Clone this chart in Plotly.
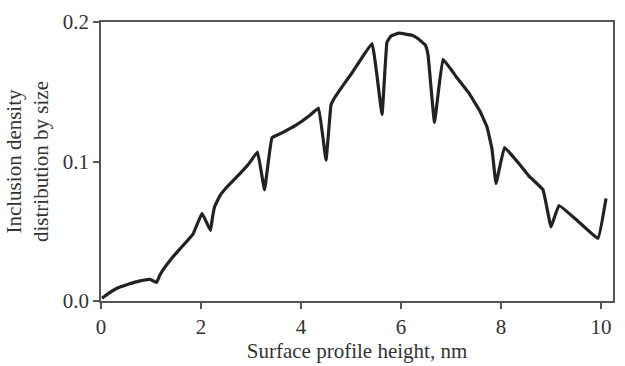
import plotly.graph_objects as go

height_nm = [0.02, 0.15, 0.34, 0.5, 0.62, 0.78, 0.98, 1.11, 1.17, 1.24, 1.4, 1.57,
             1.84, 2.02, 2.19, 2.23, 2.27, 2.38, 2.5, 2.77, 2.95, 3.13, 3.27,
             3.42, 3.63, 3.9, 4.16, 4.35, 4.5, 4.6, 4.66, 4.83, 5.03, 5.42,
             5.62, 5.72, 5.8, 5.96, 6.22, 6.35, 6.49, 6.54, 6.67, 6.84, 7.1,
             7.35, 7.58, 7.72, 7.82, 7.9, 8.07, 8.35, 8.55, 8.84, 9.0, 9.16,
             9.54, 9.94, 10.1]
density = [0.002, 0.0055, 0.0095, 0.0115, 0.0128, 0.0144, 0.0155, 0.0133, 0.018,
           0.0223, 0.030, 0.037, 0.048, 0.0628, 0.0505, 0.060, 0.0674, 0.0755,
           0.081, 0.091, 0.098, 0.1068, 0.0797, 0.117, 0.1207, 0.126, 0.1326,
           0.1383, 0.101, 0.1405, 0.145, 0.154, 0.164, 0.1845, 0.1338, 0.1856,
           0.190, 0.192, 0.1905, 0.1878, 0.1833, 0.1766, 0.128, 0.1732, 0.161,
           0.1495, 0.136, 0.1248, 0.109, 0.0842, 0.110, 0.0989, 0.0899, 0.0797,
           0.0532, 0.0685, 0.0572, 0.0448, 0.0734]
x_ticks = [0, 2, 4, 6, 8, 10]
y_ticks = [0.0, 0.1, 0.2]

font = "Liberation Serif, Times New Roman, serif"

fig = go.Figure(go.Scatter(x=height_nm, y=density, mode="lines",
                           line=dict(color="#222222", width=3.2, shape="spline", smoothing=0.25),
                           hoverinfo="skip"))

axis_common = dict(showline=True, linecolor="#555555", linewidth=1.5, mirror=True,
                   showgrid=False, zeroline=False, ticks="outside", ticklen=6,
                   tickwidth=1.5, tickcolor="#555555",
                   tickfont=dict(family=font, size=21, color="#333333"))

fig.update_layout(
    width=625, height=366,
    margin=dict(l=101, r=10, t=12, b=58),
    paper_bgcolor="white", plot_bgcolor="white",
    showlegend=False,
    xaxis=dict(range=[0, 10.24], tickvals=x_ticks, ticktext=[str(v) for v in x_ticks],
               title=dict(text="Surface profile height, nm",
                          font=dict(family=font, size=21, color="#333333"), standoff=2),
               **axis_common),
    yaxis=dict(range=[0, 0.2], tickvals=y_ticks, ticktext=[f"{v:.1f}" for v in y_ticks],
               title=dict(text="Inclusion density<br>distribution by size",
                          font=dict(family=font, size=21, color="#333333"), standoff=8),
               **axis_common),
)

fig.write_html("out.html")
